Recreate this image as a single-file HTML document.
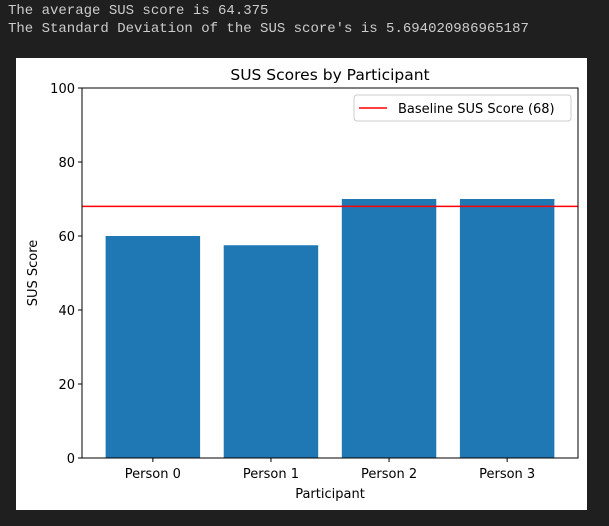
<!DOCTYPE html>
<html><head><style>
body{margin:0;width:609px;height:526px;background:#1f1f1f;overflow:hidden;position:relative}
.out{position:absolute;left:8px;font:14px "Liberation Mono",monospace;color:#cccccc;white-space:pre}
svg{position:absolute;left:0;top:0}
</style></head><body>
<div class="out" style="top:3px">The average SUS score is 64.375</div>
<div class="out" style="top:21px">The Standard Deviation of the SUS score's is 5.694020986965187</div>
<svg width="609" height="526" id="chart" font-family="DejaVu Sans, Liberation Sans, sans-serif">
<rect x="16" y="58" width="571" height="452" fill="#fff"/>
</svg>
<script>
const categories=["Person 0","Person 1","Person 2","Person 3"];
const scores=[60,57.5,70,70];
const yTicks=[0,20,40,60,80,100];
const baseline=68;
const svg=document.getElementById('chart');
const NS='http://www.w3.org/2000/svg';
const L=82,R=578,T=88,B=458;
const x=v=>L+(v+0.6)/4.2*(R-L);
const y=v=>B-v/100*(B-T);
function mk(t,a,txt){const e=document.createElementNS(NS,t);for(const k in a)e.setAttribute(k,a[k]);if(txt!=null)e.textContent=txt;svg.appendChild(e);return e;}
const bw=0.8/4.2*(R-L);
categories.forEach((c,i)=>{
  const b=mk('rect',{x:x(i)-bw/2,y:y(scores[i]),width:bw,height:y(0)-y(scores[i]),fill:'#1f77b4'});
  
  
  const tk=mk('line',{x1:x(i),x2:x(i),y1:B,y2:B+4,stroke:'#000'});
  
  
  const l=mk('text',{x:x(i),y:B+20,'font-size':13,'text-anchor':'middle'},c);
  
  
});
yTicks.forEach(v=>{
  const tk=mk('line',{x1:L-4,x2:L,y1:y(v),y2:y(v),stroke:'#000'});
  
  
  const l=mk('text',{x:L-7,y:y(v)+5,'font-size':13,'text-anchor':'end'},v);
  
  
});
const bl=mk('line',{x1:L,x2:R,y1:y(baseline),y2:y(baseline),stroke:'#ff0000','stroke-width':1.5});


const ax=mk('rect',{x:L,y:T,width:R-L,height:B-T,fill:'none',stroke:'#000','stroke-width':1});


const ti=mk('text',{x:(L+R)/2,y:80,'font-size':15.5,'text-anchor':'middle'},'SUS Scores by Participant');


const xt=mk('text',{x:(L+R)/2,y:498,'font-size':13,'text-anchor':'middle'},'Participant');


const yt=mk('text',{x:0,y:0,'font-size':13,'text-anchor':'middle',transform:'translate(37,273) rotate(-90)'},'SUS Score');


const lg=mk('rect',{x:354,y:95,width:217,height:26,rx:3,fill:'#fff',stroke:'#ccc'});


const ll=mk('line',{x1:359,x2:387,y1:108,y2:108,stroke:'#ff0000','stroke-width':1.5});


const lt=mk('text',{x:398,y:113,'font-size':13},'Baseline SUS Score ('+baseline+')');


</script>
</body></html>
